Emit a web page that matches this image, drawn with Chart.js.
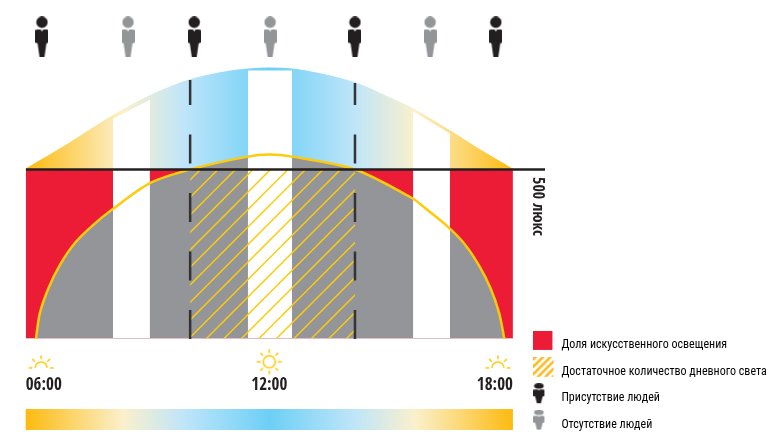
<!DOCTYPE html>
<html lang="ru">
<head>
<meta charset="utf-8">
<title>Дневной свет</title>
<script src="https://cdn.jsdelivr.net/npm/chart.js@4/dist/chart.umd.min.js"></script>
<style>
    html, body { margin: 0; padding: 0; background: #fff; }
    canvas { display: block; }
</style>
</head>
<body>
<canvas id="lightChart" width="769" height="432"></canvas>
<script>
// hours of the day, lux
const tickHours = [6, 12, 18];
const tickLabels = ['06:00', '12:00', '18:00'];

const lampHours = [6, 18];
const lampLux = [500, 500];

const skyHours = [6, 7.09, 8.15, 9.06, 10.05, 10.79, 11.47, 12, 12.56, 13.25, 14.11, 14.85, 15.54, 16.45, 17.19, 18];
const skyLux = [500, 578, 658, 717, 764, 785, 796, 799, 796, 782, 755, 717, 678, 613, 557, 500];

const indoorHours = [6.25, 6.35, 6.56, 6.84, 7.21, 7.63, 8.12, 9.06, 10.05, 11.47, 12, 12.56, 14.11, 15.51, 15.89, 16.38, 16.79, 17.16, 17.45, 17.66, 17.79];
const indoorLux = [0, 77, 150, 218, 283, 333, 381, 460, 500, 538, 544, 538, 500, 416, 381, 333, 283, 218, 150, 77, 0];

const breakHours = [[8.15, 9.06], [11.47, 12.56], [15.54, 16.45]];
const breakTops = [[650, 706], [792, 792], [672, 606]];

const enoughHours = [10.05, 14.11];
const enoughLux = [500, 500];

const dashHours = [10.05, 14.11];
const dashTops = [764, 755];

const presentHours = [6.4, 10.15, 14.11, 17.58];
const absentHours = [8.52, 12.02, 15.96];
const peopleLux = 891;

const sunHours = [6.38, 12, 17.63];
const sunLux = [-85, -67, -85];

const gradientHours = [6, 6.2, 8.4, 9.9, 12, 14.1, 15.6, 17.8, 18];
const gradientColors = ['#fdbb10', '#fdbf1e', '#fbf0cc', '#bfe5f9', '#6dcff6', '#bfe5f9', '#fbf0cc', '#fdbf1e', '#fdbb10'];

const legendLabels = ['Доля искусственного освещения', 'Достаточное количество дневного света', 'Присутствие людей', 'Отсутствие людей'];

const RED = '#ed1c36';
const GREY = '#939598';
const DARK = '#231f20';
const YELLOW = '#fecb0a';

const toPoints = (xs, ys) => xs.map((x, i) => ({x: x, y: ys[i]}));

// legend icons get an empty right and bottom margin so they sit left of and above their text
const makePerson = (w, h, color, marginX = 0, marginY = 0) => {
    const c = document.createElement('canvas');
    c.width = w + marginX;
    c.height = h + marginY;
    const g = c.getContext('2d');
    g.scale(w / 13, h / 41);
    g.fillStyle = color;
    g.beginPath();
    g.arc(6.5, 5.7, 5.7, 0, Math.PI * 2);
    g.fill();
    g.beginPath();
    g.moveTo(1.2, 13);
    g.lineTo(5.2, 13);
    g.lineTo(6.5, 15);
    g.lineTo(7.8, 13);
    g.lineTo(11.8, 13);
    g.quadraticCurveTo(13, 13, 13, 14.5);
    g.lineTo(13, 26);
    g.lineTo(10.9, 27);
    g.lineTo(8.9, 41);
    g.lineTo(4.1, 41);
    g.lineTo(2.1, 27);
    g.lineTo(0, 26);
    g.lineTo(0, 14.5);
    g.quadraticCurveTo(0, 13, 1.2, 13);
    g.fill();
    return c;
};

const makeSun = (half) => {
    const c = document.createElement('canvas');
    c.width = 28;
    c.height = 28;
    const g = c.getContext('2d');
    g.translate(14, 14);
    g.strokeStyle = YELLOW;
    g.lineWidth = 1.6;
    g.beginPath();
    if (half) {
        g.arc(0, 0, 6, Math.PI, 0);
    } else {
        g.arc(0, 0, 6, 0, Math.PI * 2);
    }
    g.stroke();
    const rays = half ? 5 : 8;
    for (let i = 0; i < rays; i++) {
        const a = Math.PI + i * Math.PI / 4;
        g.beginPath();
        g.moveTo(Math.cos(a) * 8.8, Math.sin(a) * 8.8);
        g.lineTo(Math.cos(a) * 12.5, Math.sin(a) * 12.5);
        g.stroke();
    }
    return c;
};

// two lines per tile gives a 17.5px step
const makeHatchPattern = () => {
    const c = document.createElement('canvas');
    c.width = 35;
    c.height = 35;
    const g = c.getContext('2d');
    g.strokeStyle = YELLOW;
    g.lineWidth = 1.5;
    for (let s = -35; s <= 105; s += 17.5) {
        g.beginPath();
        g.moveTo(s + 2.5 + 1, -1);
        g.lineTo(s + 2.5 - 36, 36);
        g.stroke();
    }
    return g.createPattern(c, 'repeat');
};

const makeLegendSquare = () => {
    const c = document.createElement('canvas');
    c.width = 22;
    c.height = 29;
    const g = c.getContext('2d');
    g.fillStyle = RED;
    g.fillRect(0, 0, 19, 19);
    return c;
};

const makeLegendHatch = () => {
    const c = document.createElement('canvas');
    c.width = 22;
    c.height = 30;
    const g = c.getContext('2d');
    g.beginPath();
    g.rect(0, 0, 20, 20);
    g.clip();
    g.strokeStyle = '#fdb515';
    g.lineWidth = 2.4;
    for (let s = -4; s <= 44; s += 7.4) {
        g.beginPath();
        g.moveTo(s, -1);
        g.lineTo(s - 22, 21);
        g.stroke();
    }
    return c;
};

const legendIcons = [makeLegendSquare(), makeLegendHatch(), makePerson(11, 20, DARK, 11, 10), makePerson(11, 20, GREY, 11, 10)];
const sunIcons = sunHours.map((h, i) => makeSun(i !== 1));

const dayGradient = (chart, g) => {
    if (!chart.chartArea) {
        return 'transparent';
    }
    const x = chart.scales.x;
    const grad = g.createLinearGradient(x.getPixelForValue(6), 0, x.getPixelForValue(18), 0);
    gradientHours.forEach((h, i) => grad.addColorStop((h - 6) / 12, gradientColors[i]));
    return grad;
};

const extrasPlugin = {
    id: 'extras',
    afterLayout(chart) {
        // legend sits under the 500 lux label, right of the plot
        const legend = chart.legend;
        legend.left = 519;
        legend.right = 769;
        legend.top = 325;
        legend.bottom = 500;
    },
    afterDatasetsDraw(chart) {
        const {ctx, scales} = chart;
        const left = scales.x.getPixelForValue(6);
        const right = scales.x.getPixelForValue(18);
        ctx.save();
        ctx.fillStyle = dayGradient(chart, ctx);
        ctx.fillRect(left, 409, right - left, 21);
        // suns live under the axis, outside the area points are drawn in
        sunIcons.forEach((icon, i) => {
            ctx.drawImage(icon, scales.x.getPixelForValue(sunHours[i]) - 14, scales.y.getPixelForValue(sunLux[i]) - 14);
        });
        ctx.translate(533, 177);
        ctx.rotate(Math.PI / 2);
        ctx.fillStyle = DARK;
        ctx.textBaseline = 'alphabetic';
        ctx.font = 'bold 16px "Open Sans Condensed"';
        ctx.fillText('500 люкс', 0, 0);
        ctx.restore();
    }
};

const chartDatasets = [
    {
        label: 'present',
        data: presentHours.map((h) => ({x: h, y: peopleLux})),
        showLine: false,
        pointStyle: makePerson(13, 41, DARK),
        pointRadius: 10,
        clip: false
    },
    {
        label: 'absent',
        data: absentHours.map((h) => ({x: h, y: peopleLux})),
        showLine: false,
        pointStyle: makePerson(13, 41, GREY),
        pointRadius: 10,
        clip: false
    },
    {
        label: 'threshold',
        data: [{x: 6, y: 500}, {x: 18.79, y: 500}],
        borderColor: DARK,
        borderWidth: 2.5,
        pointRadius: 0,
        fill: false
    },
    ...dashHours.map((h, i) => ({
        label: 'dash' + i,
        data: [{x: h, y: 0}, {x: h, y: dashTops[i]}],
        borderColor: '#333335',
        borderWidth: 2.5,
        borderDash: [29, 29.5],
        pointRadius: 0,
        fill: false
    })),
    {
        label: 'indoor line',
        data: toPoints(indoorHours, indoorLux),
        borderColor: YELLOW,
        borderWidth: 2.5,
        tension: 0.3,
        pointRadius: 0,
        fill: false
    },
    {
        label: 'baseline',
        data: [{x: 6, y: 0}, {x: 18, y: 0}],
        borderColor: '#e3bcc8',
        borderWidth: 2,
        pointRadius: 0,
        fill: false
    },
    {
        label: legendLabels[1],
        data: toPoints(enoughHours, enoughLux),
        borderWidth: 0,
        pointRadius: 0,
        backgroundColor: makeHatchPattern(),
        fill: 'origin'
    },
    ...breakHours.map((hours, i) => ({
        label: 'break' + i,
        data: toPoints(hours, breakTops[i]),
        borderWidth: 0,
        pointRadius: 0,
        backgroundColor: '#ffffff',
        fill: 'origin'
    })),
    {
        label: 'indoor area',
        data: toPoints(indoorHours, indoorLux),
        borderWidth: 0,
        tension: 0.3,
        pointRadius: 0,
        backgroundColor: GREY,
        fill: 'origin'
    },
    {
        label: legendLabels[0],
        data: toPoints(lampHours, lampLux),
        borderWidth: 0,
        pointRadius: 0,
        backgroundColor: RED,
        fill: 'origin'
    },
    {
        label: 'sky',
        data: toPoints(skyHours, skyLux),
        borderWidth: 1.5,
        cubicInterpolationMode: 'monotone',
        pointRadius: 0,
        borderColor: (c) => dayGradient(c.chart, c.chart.ctx),
        backgroundColor: (c) => dayGradient(c.chart, c.chart.ctx),
        fill: {value: 500}
    }
];

new Chart(document.getElementById('lightChart'), {
    type: 'line',
    data: {datasets: chartDatasets},
    plugins: [extrasPlugin],
    options: {
        responsive: false,
        animation: false,
        layout: { autoPadding: false, padding: { left: 25.7, right: 224, top: 0, bottom: 0 } },
        scales: {
            x: {
                type: 'linear',
                min: 6,
                max: 18.79,
                grid: { display: false, drawTicks: false },
                border: { display: false },
                afterBuildTicks: (scale) => { scale.ticks = tickHours.map((h) => ({value: h})); },
                afterFit: (scale) => {
                    scale.height = 93;
                    scale.paddingLeft = 0;
                    scale.paddingRight = 0;
                },
                ticks: {
                    autoSkip: false,
                    maxRotation: 0,
                    align: 'inner',
                    padding: 36,
                    color: DARK,
                    font: { family: '"Open Sans Condensed"', weight: 'bold', size: 17 },
                    callback: (value) => tickLabels[tickHours.indexOf(value)]
                }
            },
            y: { display: false, min: 0, max: 1000 }
        },
        plugins: {
            tooltip: { enabled: false },
            legend: {
                position: 'chartArea',
                align: 'start',
                labels: {
                    usePointStyle: true,
                    pointStyleWidth: 22,
                    padding: 14.4,
                    color: '#414042',
                    font: { family: '"Roboto Condensed"', size: 12 },
                    generateLabels: () => legendLabels.map((text, i) => ({
                        text: text,
                        pointStyle: legendIcons[i],
                        lineWidth: 0,
                        hidden: false
                    }))
                }
            }
        }
    }
});
</script>
</body>
</html>
